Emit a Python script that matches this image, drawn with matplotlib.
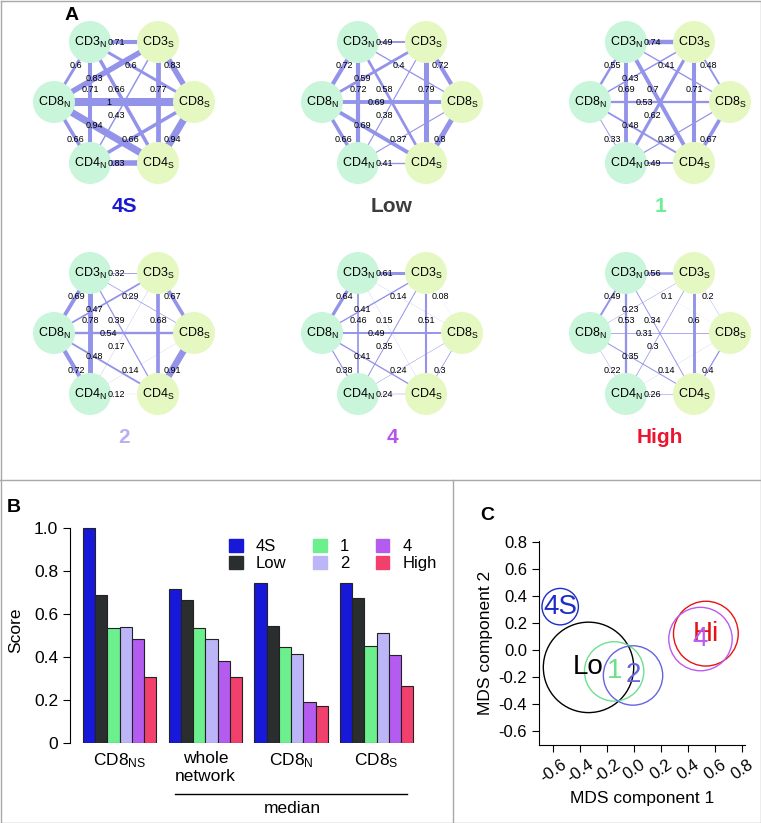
import matplotlib
matplotlib.use('Agg')
import matplotlib.pyplot as plt
from matplotlib.patches import Circle, Patch
import numpy as np

plt.rcParams['font.family'] = ['Liberation Sans', 'DejaVu Sans']
plt.rcParams['axes.unicode_minus'] = False
plt.rcParams['mathtext.fontset'] = 'custom'
plt.rcParams['mathtext.rm'] = 'Liberation Sans'
plt.rcParams['mathtext.it'] = 'Liberation Sans:italic'

# ---------------- data ----------------
# panel A: correlation networks (edge weights per condition)
nodes = ['CD3N', 'CD4N', 'CD8N', 'CD3S', 'CD4S', 'CD8S']
node_text = {n: n[:3] + r'$_\mathrm{' + n[3] + '}$' for n in nodes}
edges = [('CD3N', 'CD3S'), ('CD3N', 'CD8N'), ('CD3S', 'CD8S'), ('CD4N', 'CD8N'),
         ('CD4S', 'CD8S'), ('CD4N', 'CD4S'), ('CD8N', 'CD8S'), ('CD3N', 'CD4N'),
         ('CD3S', 'CD4S'), ('CD3N', 'CD8S'), ('CD8N', 'CD3S'), ('CD3N', 'CD4S'),
         ('CD4N', 'CD3S'), ('CD8N', 'CD4S'), ('CD4N', 'CD8S')]
net_names = ['4S', 'Low', '1', '2', '4', 'High']
w_4S = [0.71, 0.6, 0.83, 0.66, 0.94, 0.83, 1, 0.71, 0.77, 0.6, 0.83, 0.66, 0.43, 0.94, 0.66]
w_Low = [0.49, 0.72, 0.72, 0.66, 0.8, 0.41, 0.69, 0.72, 0.79, 0.4, 0.59, 0.58, 0.38, 0.69, 0.37]
w_1 = [0.74, 0.55, 0.48, 0.33, 0.67, 0.49, 0.53, 0.69, 0.71, 0.41, 0.43, 0.7, 0.62, 0.48, 0.39]
w_2 = [0.32, 0.69, 0.67, 0.72, 0.91, 0.12, 0.54, 0.78, 0.68, 0.29, 0.47, 0.39, 0.17, 0.48, 0.14]
w_4 = [0.61, 0.64, 0.08, 0.38, 0.3, 0.24, 0.49, 0.46, 0.51, 0.14, 0.41, 0.15, 0.35, 0.41, 0.24]
w_High = [0.56, 0.49, 0.2, 0.22, 0.4, 0.26, 0.31, 0.53, 0.6, 0.1, 0.23, 0.34, 0.3, 0.35, 0.14]
net_weights = [w_4S, w_Low, w_1, w_2, w_4, w_High]
net_colors = ['#1a1ad4', '#3c3c3c', '#6cf096', '#b8aff3', '#b454ec', '#ec1530']

# panel B: scores
groups = [r'CD8$_\mathrm{NS}$', 'whole\nnetwork', r'CD8$_\mathrm{N}$', r'CD8$_\mathrm{S}$']
series = ['4S', 'Low', '1', '2', '4', 'High']
score_4S = [1.0, 0.714, 0.742, 0.742]
score_Low = [0.688, 0.663, 0.544, 0.675]
score_1 = [0.533, 0.533, 0.445, 0.453]
score_2 = [0.541, 0.484, 0.414, 0.512]
score_4 = [0.484, 0.383, 0.19, 0.411]
score_High = [0.306, 0.306, 0.17, 0.267]
scores = [score_4S, score_Low, score_1, score_2, score_4, score_High]
bar_colors = ['#1818d8', '#2a2e2f', '#6cf08e', '#bcb6f8', '#b45cf0', '#f2406c']

# panel C: MDS
mds_labels = ['4S', 'Lo', '1', '2', 'Hi', '4']
mds_x = [-0.55, -0.34, -0.15, -0.01, 0.53, 0.49]
mds_y = [0.32, -0.13, -0.16, -0.19, 0.12, 0.08]
mds_r = [0.135, 0.335, 0.22, 0.22, 0.24, 0.235]
mds_colors = ['#1e2cc8', '#000000', '#6ce08c', '#6464e0', '#e61414', '#bc5af0']

# ---------------- figure ----------------
W, H = 761, 823
fig = plt.figure(figsize=(W / 100, H / 100), dpi=100)
ax0 = fig.add_axes([0, 0, 1, 1])
ax0.set_xlim(0, W)
ax0.set_ylim(H, 0)
ax0.axis('off')

# frame lines
frame = '#a8a8a8'
ax0.plot([0.5, W - 0.5, W - 0.5, 0.5, 0.5], [0.5, 0.5, H - 0.5, H - 0.5, 0.5], color=frame, lw=1)
ax0.plot([0, W], [480, 480], color=frame, lw=1)
ax0.plot([453, 453], [480, H], color=frame, lw=1)

# panel A networks
pos = {'CD3N': (-34, -60), 'CD3S': (34, -60), 'CD8N': (-70, 0), 'CD8S': (70, 0),
       'CD4N': (-34, 61), 'CD4S': (34, 61)}
centers = [(124, 102), (392, 102), (660, 102), (124, 333), (392, 333), (660, 333)]
edge_col = '#9393ea'
for (cx, cy), name, wts, tcol in zip(centers, net_names, net_weights, net_colors):
    for (a, b), w in zip(edges, wts):
        x1, y1 = cx + pos[a][0], cy + pos[a][1]
        x2, y2 = cx + pos[b][0], cy + pos[b][1]
        ax0.plot([x1, x2], [y1, y2], color=edge_col, lw=max(5.8 * w ** 2, 0.05),
                 solid_capstyle='butt', zorder=1)
        t = 0.39
        ax0.text(x1 + t * (x2 - x1), y1 + t * (y2 - y1), f'{w:g}', fontsize=6.5,
                 ha='center', va='center', zorder=4)
    for n in nodes:
        col = '#c9f5da' if n.endswith('N') else '#e6f8c2'
        ax0.add_patch(Circle((cx + pos[n][0], cy + pos[n][1]), 21, color=col, zorder=2, lw=0))
        ax0.text(cx + pos[n][0], cy + pos[n][1], node_text[n], fontsize=9,
                 ha='center', va='center', zorder=5)
    ax0.text(cx, cy + 104, name, color=tcol, fontsize=15, fontweight='bold',
             ha='center', va='center')

ax0.text(72, 15, 'A', fontsize=14, fontweight='bold', ha='center', va='center')
ax0.text(14, 508, 'B', fontsize=14, fontweight='bold', ha='center', va='center')
ax0.text(487, 515, 'C', fontsize=14, fontweight='bold', ha='center', va='center')

# panel B bars
axb = fig.add_axes([70 / W, 80 / H, 352 / W, 225.75 / H])
for i, (s, vals, col) in enumerate(zip(series, scores, bar_colors)):
    xs = np.arange(len(groups)) * 7 + i
    axb.bar(xs, vals, width=1, color=col, edgecolor='#222222', lw=0.8, label=s)
axb.set_xlim(-1.56, 27.2)
axb.set_ylim(0, 1.05)
for sp in ['top', 'right', 'bottom']:
    axb.spines[sp].set_visible(False)
axb.spines['left'].set_bounds(0, 1)
axb.set_yticks([0, 0.2, 0.4, 0.6, 0.8, 1.0])
axb.set_yticklabels(['0', '0.2', '0.4', '0.6', '0.8', '1.0'])
axb.set_xticks(np.arange(len(groups)) * 7 + 2.5)
axb.set_xticklabels(groups)
axb.tick_params(axis='x', length=0, pad=6, labelsize=12.5)
axb.tick_params(axis='y', length=5, labelsize=12.5)
axb.set_ylabel('Score', fontsize=12.5, labelpad=8)
axb.plot([7.0, 26.0], [-0.226, -0.226], color='black', lw=1,
         transform=axb.get_xaxis_transform(), clip_on=False)
axb.text(16.6, -0.292, 'median', fontsize=12.5, ha='center', va='center',
         transform=axb.get_xaxis_transform())
handles = [Patch(color=c, label=s) for s, c in zip(series, bar_colors)]
axb.legend(handles=handles, ncol=3, frameon=False, loc='upper left',
           bbox_to_anchor=(0.41, 0.97), fontsize=12, handlelength=0.8,
           handleheight=0.8, handletextpad=0.8, columnspacing=1.6, labelspacing=0.1)

# panel C MDS
axc = fig.add_axes([539 / W, 78 / H, 206 / W, 204.5 / H])
for x, y, r, lab, col in zip(mds_x, mds_y, mds_r, mds_labels, mds_colors):
    axc.add_patch(Circle((x, y), r, fill=False, edgecolor=col, lw=1))
    axc.text(x, y, lab, color=col, fontsize=20, ha='center', va='center')
axc.set_xlim(-0.707, 0.82)
axc.set_ylim(-0.705, 0.81)
for sp in ['top', 'right']:
    axc.spines[sp].set_visible(False)
ticks = [-0.6, -0.4, -0.2, 0.0, 0.2, 0.4, 0.6, 0.8]
axc.set_xticks(ticks)
axc.set_xticklabels([f'{t:.1f}' for t in ticks], rotation=35, ha='center')
axc.set_yticks(ticks)
axc.set_yticklabels([f'{t:.1f}' for t in ticks])
axc.tick_params(length=5, labelsize=12)
axc.set_xlabel('MDS component 1', fontsize=12.5)
axc.set_ylabel('MDS component 2', fontsize=12.5)

fig.savefig('out.png', dpi=100)
